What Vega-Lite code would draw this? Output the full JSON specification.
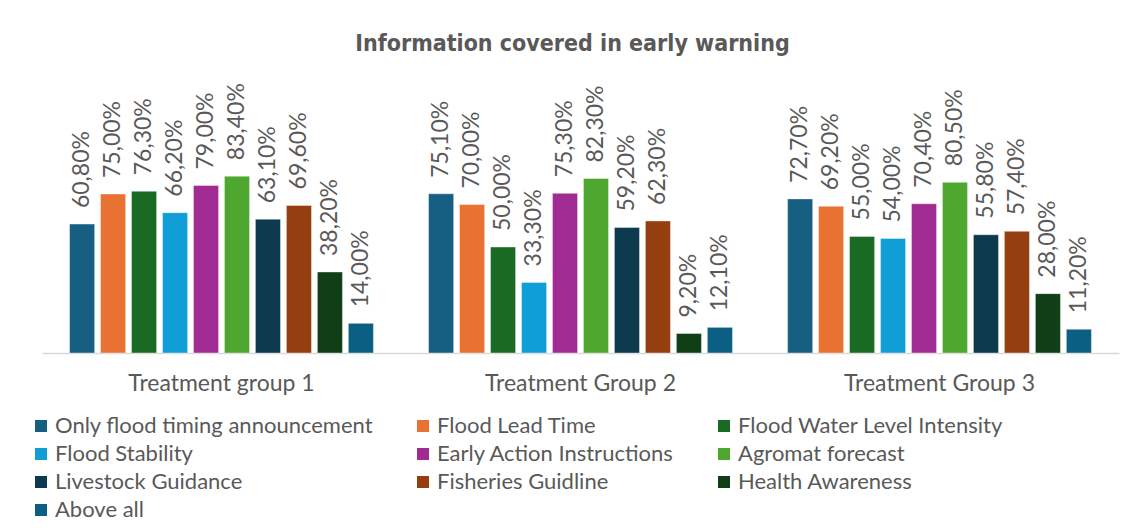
{
  "$schema": "https://vega.github.io/schema/vega-lite/v6.json",
  "autosize": {"type": "none"},
  "width": 1077,
  "height": 212,
  "padding": {"left": 42, "top": 141, "right": 20, "bottom": 175},
  "background": "white",
  "config": {
    "font": "Lato",
    "view": {"stroke": null},
    "locale": {"number": {"decimal": ",", "thousands": ".", "grouping": [3], "currency": ["", ""]}}
  },
  "title": {
    "text": "Information covered in early warning",
    "font": "Liberation Sans Narrow, DejaVu Sans Condensed, Roboto",
    "fontSize": 23,
    "fontWeight": "bold",
    "color": "#595959",
    "anchor": "middle",
    "frame": "group",
    "offset": 27,
    "dx": -8
  },
  "data": {
    "values": [
      {"group": "Treatment group 1", "item": "Only flood timing announcement", "value": 0.608},
      {"group": "Treatment group 1", "item": "Flood Lead Time", "value": 0.75},
      {"group": "Treatment group 1", "item": "Flood Water Level Intensity", "value": 0.763},
      {"group": "Treatment group 1", "item": "Flood Stability", "value": 0.662},
      {"group": "Treatment group 1", "item": "Early Action Instructions", "value": 0.79},
      {"group": "Treatment group 1", "item": "Agromat forecast", "value": 0.834},
      {"group": "Treatment group 1", "item": "Livestock Guidance", "value": 0.631},
      {"group": "Treatment group 1", "item": "Fisheries Guidline", "value": 0.696},
      {"group": "Treatment group 1", "item": "Health Awareness", "value": 0.382},
      {"group": "Treatment group 1", "item": "Above all", "value": 0.14},
      {"group": "Treatment Group 2", "item": "Only flood timing announcement", "value": 0.751},
      {"group": "Treatment Group 2", "item": "Flood Lead Time", "value": 0.70},
      {"group": "Treatment Group 2", "item": "Flood Water Level Intensity", "value": 0.50},
      {"group": "Treatment Group 2", "item": "Flood Stability", "value": 0.333},
      {"group": "Treatment Group 2", "item": "Early Action Instructions", "value": 0.753},
      {"group": "Treatment Group 2", "item": "Agromat forecast", "value": 0.823},
      {"group": "Treatment Group 2", "item": "Livestock Guidance", "value": 0.592},
      {"group": "Treatment Group 2", "item": "Fisheries Guidline", "value": 0.623},
      {"group": "Treatment Group 2", "item": "Health Awareness", "value": 0.092},
      {"group": "Treatment Group 2", "item": "Above all", "value": 0.121},
      {"group": "Treatment Group 3", "item": "Only flood timing announcement", "value": 0.727},
      {"group": "Treatment Group 3", "item": "Flood Lead Time", "value": 0.692},
      {"group": "Treatment Group 3", "item": "Flood Water Level Intensity", "value": 0.55},
      {"group": "Treatment Group 3", "item": "Flood Stability", "value": 0.54},
      {"group": "Treatment Group 3", "item": "Early Action Instructions", "value": 0.704},
      {"group": "Treatment Group 3", "item": "Agromat forecast", "value": 0.805},
      {"group": "Treatment Group 3", "item": "Livestock Guidance", "value": 0.558},
      {"group": "Treatment Group 3", "item": "Fisheries Guidline", "value": 0.574},
      {"group": "Treatment Group 3", "item": "Health Awareness", "value": 0.28},
      {"group": "Treatment Group 3", "item": "Above all", "value": 0.112}
    ]
  },
  "encoding": {
    "x": {
      "field": "group", "type": "nominal", "sort": null,
      "scale": {"paddingInner": 0, "paddingOuter": 0},
      "axis": {
        "title": null, "labelAngle": 0, "ticks": false, "domainColor": "#d9d9d9", "domainWidth": 1.5,
        "labelFontSize": 23, "labelColor": "#595959", "labelPadding": 19, "labelFont": "Lato", "labelLimit": 400
      }
    },
    "xOffset": {
      "field": "item", "type": "nominal", "sort": null,
      "scale": {"paddingInner": 0.19, "paddingOuter": 0.89}
    },
    "y": {
      "field": "value", "type": "quantitative",
      "scale": {"domain": [0, 1]},
      "axis": null
    }
  },
  "layer": [
    {
      "mark": {"type": "bar", "stroke": "white", "strokeOpacity": 0.5, "strokeWidth": 0.8},
      "encoding": {
        "color": {
          "field": "item", "type": "nominal", "sort": null,
          "scale": {
            "domain": ["Only flood timing announcement", "Flood Lead Time", "Flood Water Level Intensity", "Flood Stability", "Early Action Instructions", "Agromat forecast", "Livestock Guidance", "Fisheries Guidline", "Health Awareness", "Above all"],
            "range": ["#165f82", "#e97132", "#196b24", "#0f9ed5", "#a02b93", "#4ea72e", "#0e3a4f", "#953f11", "#103e16", "#0b5f83"]
          },
          "legend": {
            "title": null, "orient": "none", "legendX": -12, "legendY": 274, "direction": "horizontal", "columns": 3,
            "symbolType": "square", "symbolSize": 144, "symbolStrokeWidth": 0,
            "labelFontSize": 22, "labelColor": "#595959", "labelFont": "Lato", "labelLimit": 400,
            "columnPadding": 38, "rowPadding": 6, "labelOffset": 3, "padding": 0
          }
        }
      }
    },
    {
      "mark": {"type": "text", "angle": 270, "align": "left", "baseline": "middle", "dx": 16, "fontSize": 23, "color": "#595959", "font": "Lato"},
      "encoding": {
        "text": {"field": "value", "type": "quantitative", "format": ".2%"}
      }
    }
  ]
}
